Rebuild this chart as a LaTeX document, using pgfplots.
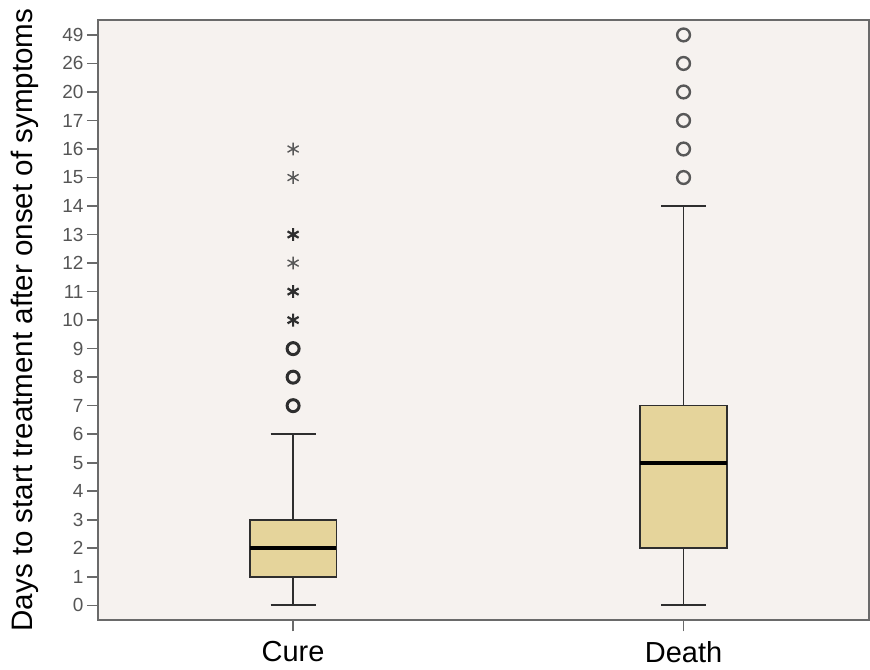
\documentclass[border=0pt]{standalone}
\usepackage{pgfplots}
\pgfplotsset{compat=1.18}
\usepgfplotslibrary{statistics}
\usepackage{fontspec}
\setmainfont{Liberation Sans}
\definecolor{bg}{HTML}{F6F2EF}
\definecolor{boxfill}{HTML}{E5D49B}
\definecolor{frame}{HTML}{6A6A6A}
\definecolor{ticklab}{HTML}{555555}
\definecolor{dk}{HTML}{2E2E2E}
\begin{document}
\begin{tikzpicture}
\begin{axis}[
  scale only axis,
  width=386pt, height=300.5pt,
  xmin=0.5, xmax=2.475,
  ymin=-0.525, ymax=20.525,
  axis background/.style={fill=bg},
  axis line style={frame, line width=1pt},
  xtick={1,2}, xticklabels={Cure,Death},
  ytick={0,1,...,20},
  yticklabels={0,1,2,3,4,5,6,7,8,9,10,11,12,13,14,15,16,17,20,26,49},
  tick pos=left,
  tick align=outside,
  tick style={frame, line width=0.8pt},
  major tick length=5.5pt,
  x tick label style={font=\fontsize{14.5}{16}\selectfont, text=black, yshift=-1.5pt},
  y tick label style={font=\fontsize{9.5}{11}\selectfont, text=ticklab, inner sep=1.5pt},
  /pgf/number format/assume math mode=true,
  ylabel={Days to start treatment after onset of symptoms},
  ylabel style={font=\fontsize{14.8}{16}\selectfont},
  ylabel shift=7pt,
  clip=false,
  boxplot/draw direction=y,
  boxplot/every box/.style={draw=dk, line width=0.8pt, fill=boxfill},
  boxplot/every whisker/.style={draw=dk, line width=0.9pt},
  boxplot/every median/.style={draw=black, line width=2pt},
]
% Cure
\addplot+[boxplot prepared={draw position=1, lower whisker=0, lower quartile=1, median=2, upper quartile=3, upper whisker=6, box extend=0.222, whisker extend=0.115}, draw=dk, solid] coordinates {};
% Death
\addplot+[boxplot prepared={draw position=2, lower whisker=0, lower quartile=2, median=5, upper quartile=7, upper whisker=14, box extend=0.222, whisker extend=0.115}, draw=dk, solid] coordinates {};
% Cure outliers (circles)
\addplot[only marks, mark=o, mark size=3pt, mark options={draw=dk, line width=1.5pt}] coordinates {(1,7) (1,8) (1,9)};
% Cure extreme values (stars)
\addplot[only marks, mark=asterisk, mark size=3.2pt, mark options={draw=dk, line width=1.1pt}] coordinates {(1,10) (1,11) (1,13)};
\addplot[only marks, mark=asterisk, mark size=3.2pt, mark options={draw=dk!80, line width=0.7pt}] coordinates {(1,12) (1,15) (1,16)};
% Death outliers (circles); 15,16,17,20,26,49 at category positions 15..20
\addplot[only marks, mark=o, mark size=3.2pt, mark options={draw=dk!80, line width=1.2pt}] coordinates {(2,15) (2,16) (2,17) (2,18) (2,19) (2,20)};
\end{axis}
\path (current axis.south west) -- ++(-49pt,-23.5pt);
\path (current axis.north east) -- ++(0pt,10pt);
\end{tikzpicture}
\end{document}
